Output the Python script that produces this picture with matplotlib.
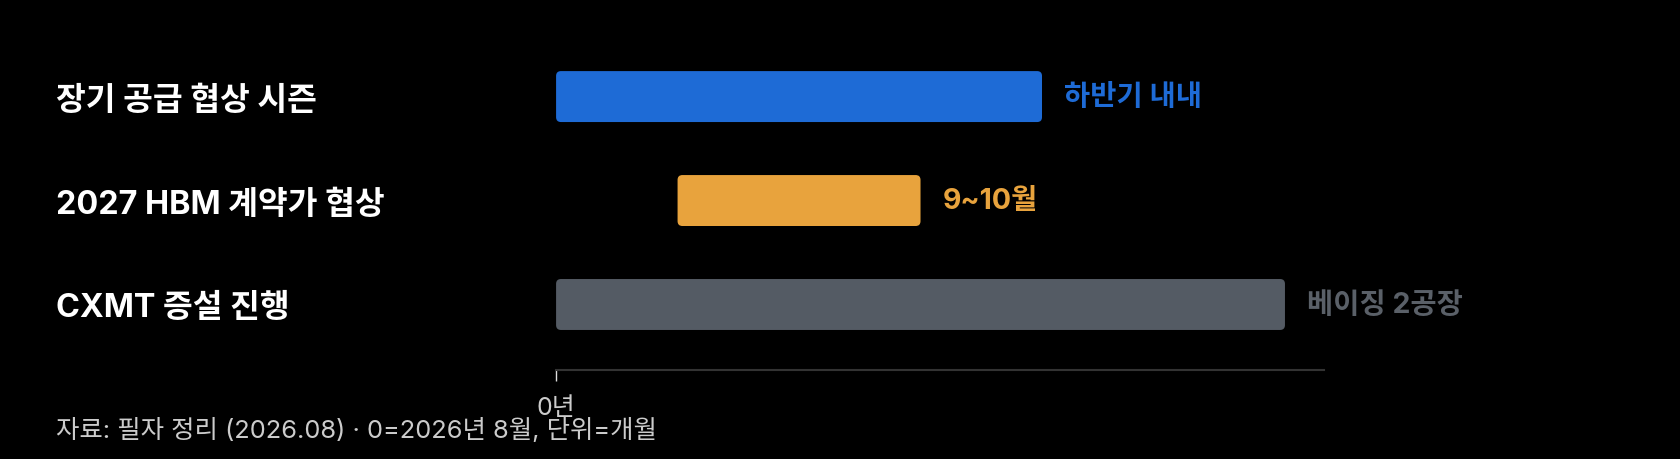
import matplotlib.pyplot as plt
from matplotlib.patches import FancyBboxPatch

plt.rcParams['font.family'] = ['Inter', 'Noto Sans CJK KR', 'DejaVu Sans']

# données (unité = mois, 0 = août 2026)
taches = ['장기 공급 협상 시즌', '2027 HBM 계약가 협상', 'CXMT 증설 진행']
debuts = [0, 1, 0]
durees = [4, 2, 6]
etiquettes = ['하반기 내내', '9~10월', '베이징 2공장']
couleurs = ['#1E6BD6', '#E8A33D', '#545B64']
couleurs_texte = ['#1E6BD6', '#E8A33D', '#5A6068']
ticks_x = [0]
labels_x = ['0년']

fig = plt.figure(figsize=(16.8, 4.6), dpi=100, facecolor='black')
ax = fig.add_axes([0.331, 0.1935, 0.457, 0.73])
ax.set_facecolor('black')

y = list(range(len(taches)))
barres = ax.barh(y, durees, left=debuts, height=0.49, color=couleurs)

# coins arrondis
for b, c in zip(barres, couleurs):
    b.set_visible(False)
    p = FancyBboxPatch((b.get_x(), b.get_y()), b.get_width(), b.get_height(),
                       boxstyle='round,pad=0,rounding_size=0.04',
                       mutation_aspect=1.17, facecolor=c, edgecolor='none')
    ax.add_patch(p)

for yi, d, w, txt, c in zip(y, debuts, durees, etiquettes, couleurs_texte):
    ax.annotate(txt, (d + w, yi), xytext=(16, 0), textcoords='offset points',
                va='center', ha='left', fontsize=20.5, fontweight='bold', color=c)

ax.set_xlim(0, 6.32)
ax.set_ylim(2.63, -0.6)

ax.set_yticks(y)
ax.set_yticklabels(taches, fontsize=23.3, fontweight='bold', color='white', ha='left')
ax.tick_params(axis='y', length=0, pad=360)

ax.set_xticks(ticks_x)
ax.set_xticklabels(labels_x, fontsize=18, color='#cccccc')
ax.tick_params(axis='x', length=8, width=1, color='#dddddd', pad=11)

for s in ['top', 'right', 'left']:
    ax.spines[s].set_visible(False)
ax.spines['bottom'].set_color('#333333')
ax.spines['bottom'].set_linewidth(1.5)

fig.text(0.0333, 0.065, '자료: 필자 정리 (2026.08) · 0=2026년 8월, 단위=개월',
         fontsize=18.3, color='#cccccc', ha='left', va='center')

fig.savefig('out.png', facecolor='black')
